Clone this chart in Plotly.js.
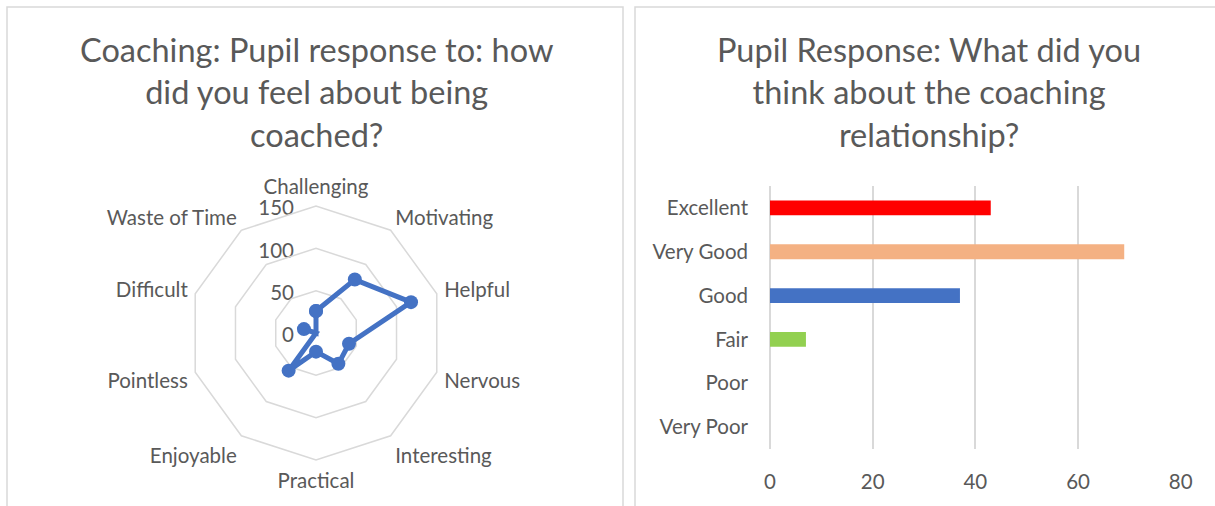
<!DOCTYPE html>
<html>
<head>
<meta charset="utf-8">
<script src="https://cdn.plot.ly/plotly-3.0.1.min.js"></script>
<style>
html,body{margin:0;padding:0;background:#fff;}
#chart{width:1215px;height:506px;}
</style>
</head>
<body>
<div id="chart"></div>
<script>
// Radar chart data
var feelingCategories = ["Challenging","Motivating","Helpful","Nervous","Interesting","Practical","Enjoyable","Pointless","Difficult","Waste of Time"];
var feelingValues = [26, 78, 118, 41, 45, 22, 55, 0, 15, 0];
var radarTicks = [0, 50, 100, 150];
var radarMax = 150;

// Bar chart data
var relationshipCategories = ["Excellent","Very Good","Good","Fair","Poor","Very Poor"];
var relationshipValues = [43, 69, 37, 7, 0, 0];
var barTicks = [0, 20, 40, 60, 80];

var barColors = ["#FF0000","#F4B183","#4472C4","#92D050","#A5A5A5","#5B9BD5"];

var W = 1215, H = 506;
function px(x){return x/W;}
function py(y){return (H-y)/H;}

var FONT = "Lato, 'Open Sans', sans-serif";
var TXT = "#595959";
var GRID = "#d9d9d9";
var TICK = 20.5;

// radar geometry (pixels)
var CX = 316, CY = 333, RAD = 127;

var traces = [
  {
    type: "scatterpolar",
    r: feelingValues.concat([feelingValues[0]]),
    theta: feelingCategories.concat([feelingCategories[0]]),
    mode: "lines+markers",
    line: {color: "#4472C4", width: 5},
    marker: {color: "#4472C4", size: 14},
    subplot: "polar",
    showlegend: false,
    hoverinfo: "skip"
  },
  {
    type: "bar",
    orientation: "h",
    x: relationshipValues,
    y: relationshipCategories,
    marker: {color: barColors},
    width: 0.34,
    xaxis: "x",
    yaxis: "y",
    showlegend: false,
    hoverinfo: "skip"
  },
  {
    // carrier for the radar's value scale labels (horizontal, left of the vertical spoke)
    type: "scatter",
    x: [], y: [],
    xaxis: "x2", yaxis: "y2",
    showlegend: false,
    hoverinfo: "skip"
  }
];

var layout = {
  width: W, height: H,
  margin: {l:0, r:0, t:0, b:0},
  paper_bgcolor: "#fff",
  plot_bgcolor: "rgba(0,0,0,0)",
  font: {family: FONT, color: TXT},
  showlegend: false,
  polar: {
    domain: {x: [px(CX-RAD), px(CX+RAD)], y: [py(CY+RAD), py(CY-RAD)]},
    gridshape: "linear",
    bgcolor: "rgba(0,0,0,0)",
    radialaxis: {
      range: [0, radarMax],
      tickvals: radarTicks,
      angle: 90,
      showticklabels: false,
      showline: false,
      ticks: "",
      gridcolor: GRID,
      gridwidth: 1.5
    },
    angularaxis: {
      rotation: 90,
      direction: "clockwise",
      showgrid: false,
      showline: true,
      linecolor: GRID,
      linewidth: 1.5,
      ticks: "outside",
      ticklen: 3,
      tickcolor: "rgba(0,0,0,0)",
      tickfont: {size: TICK, color: TXT, family: FONT}
    }
  },
  xaxis2: {
    domain: [px(CX), px(CX+RAD)],
    anchor: "y2",
    range: [0, 1],
    visible: false,
    fixedrange: true
  },
  yaxis2: {
    domain: [py(CY+2), py(CY-RAD+2)],
    anchor: "x2",
    range: [0, radarMax],
    tickvals: radarTicks,
    showgrid: false,
    zeroline: false,
    showline: false,
    ticks: "",
    ticklabelstandoff: 21,
    tickfont: {size: TICK, color: TXT, family: FONT},
    fixedrange: true
  },
  xaxis: {
    domain: [px(770), px(1180.7)],
    anchor: "y",
    range: [0, 80],
    tickvals: barTicks,
    showgrid: true,
    gridcolor: GRID,
    gridwidth: 2,
    zeroline: true,
    zerolinecolor: GRID,
    zerolinewidth: 2,
    showline: false,
    ticks: "",
    ticklabelstandoff: 18,
    tickfont: {size: TICK, color: TXT, family: FONT},
    fixedrange: true
  },
  yaxis: {
    domain: [py(449), py(186)],
    anchor: "x",
    type: "category",
    categoryorder: "array",
    categoryarray: relationshipCategories,
    autorange: "reversed",
    showgrid: false,
    zeroline: false,
    showline: false,
    ticks: "",
    ticklabelstandoff: 21,
    tickfont: {size: TICK, color: TXT, family: FONT},
    fixedrange: true
  },
  shapes: [
    {type:"rect", xref:"paper", yref:"paper", x0:px(7), x1:px(623), y0:-0.1, y1:py(7), line:{color:GRID, width:1.5}, fillcolor:"rgba(0,0,0,0)"},
    {type:"rect", xref:"paper", yref:"paper", x0:px(635), x1:px(1225), y0:-0.1, y1:py(7), line:{color:GRID, width:1.5}, fillcolor:"rgba(0,0,0,0)"}
  ],
  annotations: [
    {xref:"paper", yref:"paper", x:px(316), y:py(92), xanchor:"center", yanchor:"middle",
     text:"Coaching: Pupil response to: how<br>did you feel about being<br>coached?", showarrow:false,
     font:{size:32.5, color:TXT, family:FONT}, align:"center"},
    {xref:"paper", yref:"paper", x:px(929), y:py(92), xanchor:"center", yanchor:"middle",
     text:"Pupil Response: What did you<br>think about the coaching<br>relationship?", showarrow:false,
     font:{size:32.5, color:TXT, family:FONT}, align:"center"}
  ]
};

Plotly.newPlot("chart", traces, layout, {staticPlot: true, displayModeBar: false});
</script>
</body>
</html>
